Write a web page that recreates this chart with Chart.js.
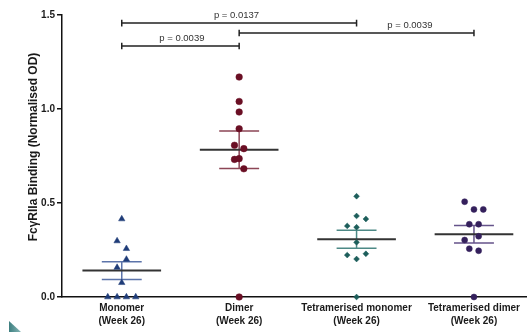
<!DOCTYPE html>
<html><head><meta charset="utf-8">
<script src="https://cdn.jsdelivr.net/npm/chart.js@4.4.1/dist/chart.umd.min.js"></script>
<style>
html,body{margin:0;padding:0;background:#fff;}
#wrap{position:relative;width:531px;height:332px;overflow:hidden;}
#corner{position:absolute;left:9px;top:321px;width:12px;height:11px;background:linear-gradient(to right,#3d7f80,#86b6b6);clip-path:polygon(0 0,0 100%,100% 100%);}
</style></head><body>
<div id="wrap"><canvas id="c" width="531" height="332"></canvas><div id="corner"></div></div>
<script>
// ---- data ----
const categories = ['Monomer', 'Dimer', 'Tetramerised monomer', 'Tetramerised dimer'];
const categorySub = '(Week 26)';
const yTicks = [0, 0.5, 1.0, 1.5];

const monomer = [0.415, 0.298, 0.257, 0.200, 0.157, 0.076, 0, 0, 0, 0];
const dimer = [1.17, 1.04, 0.984, 0.895, 0.807, 0.789, 0.732, 0.736, 0.682, 0];
const tetMonomer = [0.536, 0.431, 0.415, 0.378, 0.371, 0.291, 0.223, 0.230, 0.202, 0];
const tetDimer = [0.507, 0.466, 0.466, 0.387, 0.387, 0.323, 0.303, 0.257, 0.246, 0];

// horizontal swarm slot of each point (in point-width steps)
const monomerSlot = [0, -1, 1, 1, -1, 0, -3, -1, 1, 3];
const dimerSlot = [0, 0, 0, 0, -1, 1, -1, 0, 1, 0];
const tetMonomerSlot = [0, 0, 2, -2, 0, 0, -2, 2, 0, 0];
const tetDimerSlot = [-2, 0, 2, -1, 1, 1, -2, -1, 1, 0];

// significance brackets
const bracketFrom = [0, 1, 0];
const bracketTo = [2, 3, 1];
const bracketY = [1.457, 1.404, 1.335];
const bracketLabelX = [0.977, 2.454, 0.512];
const bracketLabels = ['p = 0.0137', 'p = 0.0039', 'p = 0.0039'];

// ---- styling ----
const SLOT = 0.0397;
const FONT = 'Liberation Sans, Arial, Helvetica, sans-serif';
const series = [
  {vals: monomer, slot: monomerSlot, color: '#1f3c78', err: '#5c74aa', style: 'triangle', r: 3.7},
  {vals: dimer, slot: dimerSlot, color: '#6a0f24', err: '#8c4656', style: 'circle', r: 3.3},
  {vals: tetMonomer, slot: tetMonomerSlot, color: '#1d5e5b', err: '#4d8986', style: 'rectRot', r: 2.9},
  {vals: tetDimer, slot: tetDimerSlot, color: '#34205c', err: '#65538a', style: 'circle', r: 3.0},
];

function stats(v) {
  const n = v.length;
  const m = v.reduce((a, b) => a + b, 0) / n;
  const sd = Math.sqrt(v.reduce((a, b) => a + (b - m) * (b - m), 0) / (n - 1));
  return {mean: m, sem: sd / Math.sqrt(n)};
}

const datasets = series.map((s, i) => ({
  label: categories[i],
  data: s.vals.map((y, k) => ({x: i + s.slot[k] * SLOT, y: y})),
  pointStyle: s.style,
  pointRadius: s.r,
  pointHoverRadius: s.r,
  backgroundColor: s.color,
  borderColor: s.color,
  borderWidth: 0.5,
  showLine: false,
  clip: false,
}));

const overlay = {
  id: 'overlay',
  beforeDatasetsDraw(chart) {
    const ctx = chart.ctx, xs = chart.scales.x, ys = chart.scales.y;
    ctx.save();
    series.forEach((s, i) => {
      const st = stats(s.vals);
      const yM = ys.getPixelForValue(st.mean);
      const yU = ys.getPixelForValue(st.mean + st.sem);
      const yL = ys.getPixelForValue(st.mean - st.sem);
      // error bar
      ctx.strokeStyle = s.err;
      ctx.lineWidth = 1.5;
      ctx.beginPath();
      ctx.moveTo(xs.getPixelForValue(i), yU); ctx.lineTo(xs.getPixelForValue(i), yL);
      ctx.moveTo(xs.getPixelForValue(i - 0.17), yU); ctx.lineTo(xs.getPixelForValue(i + 0.17), yU);
      ctx.moveTo(xs.getPixelForValue(i - 0.17), yL); ctx.lineTo(xs.getPixelForValue(i + 0.17), yL);
      ctx.stroke();
      // mean
      ctx.strokeStyle = '#333333';
      ctx.lineWidth = 2;
      ctx.beginPath();
      ctx.moveTo(xs.getPixelForValue(i - 0.335), yM); ctx.lineTo(xs.getPixelForValue(i + 0.335), yM);
      ctx.stroke();
    });
    // brackets
    ctx.strokeStyle = '#222';
    ctx.lineWidth = 1.5;
    ctx.fillStyle = '#333';
    ctx.font = '9.5px ' + FONT;
    ctx.textAlign = 'center';
    ctx.textBaseline = 'alphabetic';
    bracketY.forEach((by, k) => {
      const x1 = xs.getPixelForValue(bracketFrom[k]);
      const x2 = xs.getPixelForValue(bracketTo[k]);
      const y = ys.getPixelForValue(by);
      ctx.beginPath();
      ctx.moveTo(x1, y); ctx.lineTo(x2, y);
      ctx.moveTo(x1, y - 3.3); ctx.lineTo(x1, y + 3.3);
      ctx.moveTo(x2, y - 3.3); ctx.lineTo(x2, y + 3.3);
      ctx.stroke();
      ctx.fillText(bracketLabels[k], xs.getPixelForValue(bracketLabelX[k]), y - 5.5);
    });
    ctx.restore();
  }
};

new Chart(document.getElementById('c'), {
  type: 'scatter',
  data: {datasets},
  options: {
    responsive: false,
    animation: false,
    events: [],
    layout: {padding: {top: 15, right: 0, left: 0, bottom: 0}},
    plugins: {legend: {display: false}, tooltip: {enabled: false}},
    scales: {
      x: {
        type: 'linear',
        min: -0.509,
        max: 3.45,
        afterFit(scale) { scale.height = 35; },
        afterBuildTicks(scale) { scale.ticks = categories.map((c, i) => ({value: i})); },
        grid: {display: false, drawTicks: false},
        border: {display: true, color: '#111', width: 1.5},
        ticks: {
          autoSkip: false,
          maxRotation: 0,
          padding: 4,
          color: '#1a1a1a',
          font: {family: FONT, size: 10, weight: 'bold', lineHeight: 1.35},
          callback: (v) => [categories[v], categorySub],
        },
      },
      y: {
        min: 0,
        max: 1.5,
        afterFit(scale) { scale.width = 62; },
        afterBuildTicks(scale) { scale.ticks = yTicks.map(v => ({value: v})); },
        grid: {drawOnChartArea: false, drawTicks: true, tickLength: 5, color: '#111', lineWidth: 1.5},
        border: {display: true, color: '#111', width: 1.5},
        ticks: {
          padding: 2,
          color: '#1a1a1a',
          font: {family: FONT, size: 10, weight: 'bold'},
          callback: (v) => Number(v).toFixed(1),
        },
        title: {
          display: true,
          text: '\u2003\u2002FcγRIIa Binding (Normalised OD)',
          color: '#1a1a1a',
          font: {family: FONT, size: 12, weight: 'bold'},
          padding: {top: 26, bottom: 0},
        },
      },
    },
  },
  plugins: [overlay],
});
</script>
</body></html>
